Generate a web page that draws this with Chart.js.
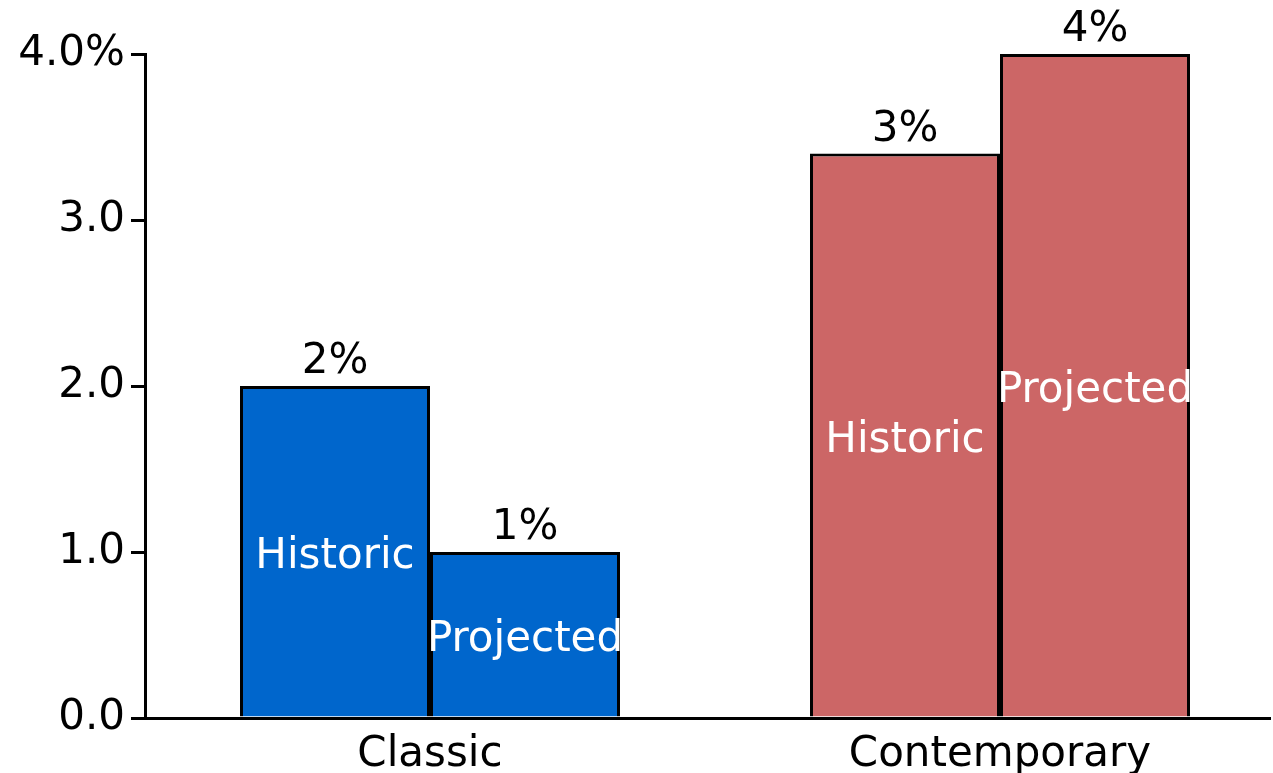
<!DOCTYPE html>
<html>
<head>
<meta charset="utf-8">
<script src="https://cdn.jsdelivr.net/npm/chart.js@4/dist/chart.umd.min.js"></script>
<style>
    html, body { margin: 0; padding: 0; background: #fff; }
    #wrap { width: 1273px; height: 773px; }
</style>
</head>
<body>
<div id="wrap"><canvas id="barChart" width="1273" height="773"></canvas></div>
<script>
// Data
const categories = ['Classic', 'Contemporary'];
const seriesNames = ['Historic', 'Projected'];
const historic = [2.0, 3.4];
const projected = [1.0, 4.0];
const historicLabels = ['2%', '3%'];
const projectedLabels = ['1%', '4%'];
const yTicks = [0, 1, 2, 3, 4];
const yTickLabels = ['0.0', '1.0', '2.0', '3.0', '4.0%'];
const categoryColors = ['#0066CC', '#CC6666'];

Chart.defaults.font.family = "'DejaVu Sans', Verdana, sans-serif";
Chart.defaults.font.size = 42;
Chart.defaults.color = '#000';

// category positions on a linear x scale (0, 1)
function toPoints(values) {
    return values.map((v, i) => ({ x: i, y: v }));
}

// value labels above the bars and series name inside
const barLabels = {
    id: 'barLabels',
    afterDatasetsDraw(chart) {
        const ctx = chart.ctx;
        const tops = [historicLabels, projectedLabels];
        ctx.save();
        ctx.font = "42px 'DejaVu Sans'";
        ctx.textAlign = 'center';
        chart.data.datasets.forEach((ds, di) => {
            const meta = chart.getDatasetMeta(di);
            meta.data.forEach((bar, i) => {
                ctx.fillStyle = '#000';
                ctx.textBaseline = 'alphabetic';
                ctx.fillText(tops[di][i], bar.x, bar.y - 13);
                ctx.fillStyle = '#fff';
                ctx.textBaseline = 'middle';
                ctx.fillText(ds.label, bar.x, (bar.y + bar.base) / 2 + 6);
            });
        });
        ctx.restore();
    }
};

const ctx = document.getElementById('barChart').getContext('2d');
const barChart = new Chart(ctx, {
    type: 'bar',
    data: {
        datasets: [{
            label: seriesNames[0],
            data: toPoints(historic),
            backgroundColor: categoryColors,
            borderColor: '#000',
            borderWidth: 3
        }, {
            label: seriesNames[1],
            data: toPoints(projected),
            backgroundColor: categoryColors,
            borderColor: '#000',
            borderWidth: 3
        }]
    },
    options: {
        responsive: false,
        animation: false,
        categoryPercentage: 380 / 570,
        barPercentage: 1.0,
        layout: {
            padding: { top: 54, right: 3, left: 0, bottom: 0 }
        },
        scales: {
            x: {
                type: 'linear',
                offset: false,
                min: -0.5,
                max: -0.5 + 1125 / 570,
                afterBuildTicks: (scale) => {
                    scale.ticks = categories.map((c, i) => ({ value: i }));
                },
                afterFit: (scale) => { scale.height = 55; },
                grid: { display: false, offset: false, drawTicks: false },
                border: { display: true, color: '#000', width: 3 },
                ticks: {
                    padding: 12,
                    maxRotation: 0,
                    autoSkip: false,
                    callback: (v) => categories[v]
                }
            },
            y: {
                min: 0,
                max: 4,
                afterBuildTicks: (scale) => {
                    scale.ticks = yTicks.map(v => ({ value: v }));
                },
                afterFit: (scale) => { scale.width = 145; },
                grid: {
                    drawOnChartArea: false,
                    drawTicks: true,
                    tickLength: 14,
                    color: '#000',
                    lineWidth: 3
                },
                border: { display: true, color: '#000', width: 3 },
                ticks: {
                    padding: 6,
                    callback: (v, i) => yTickLabels[i]
                }
            }
        },
        plugins: {
            legend: { display: false },
            tooltip: { enabled: false }
        }
    },
    plugins: [barLabels]
});
</script>
</body>
</html>
